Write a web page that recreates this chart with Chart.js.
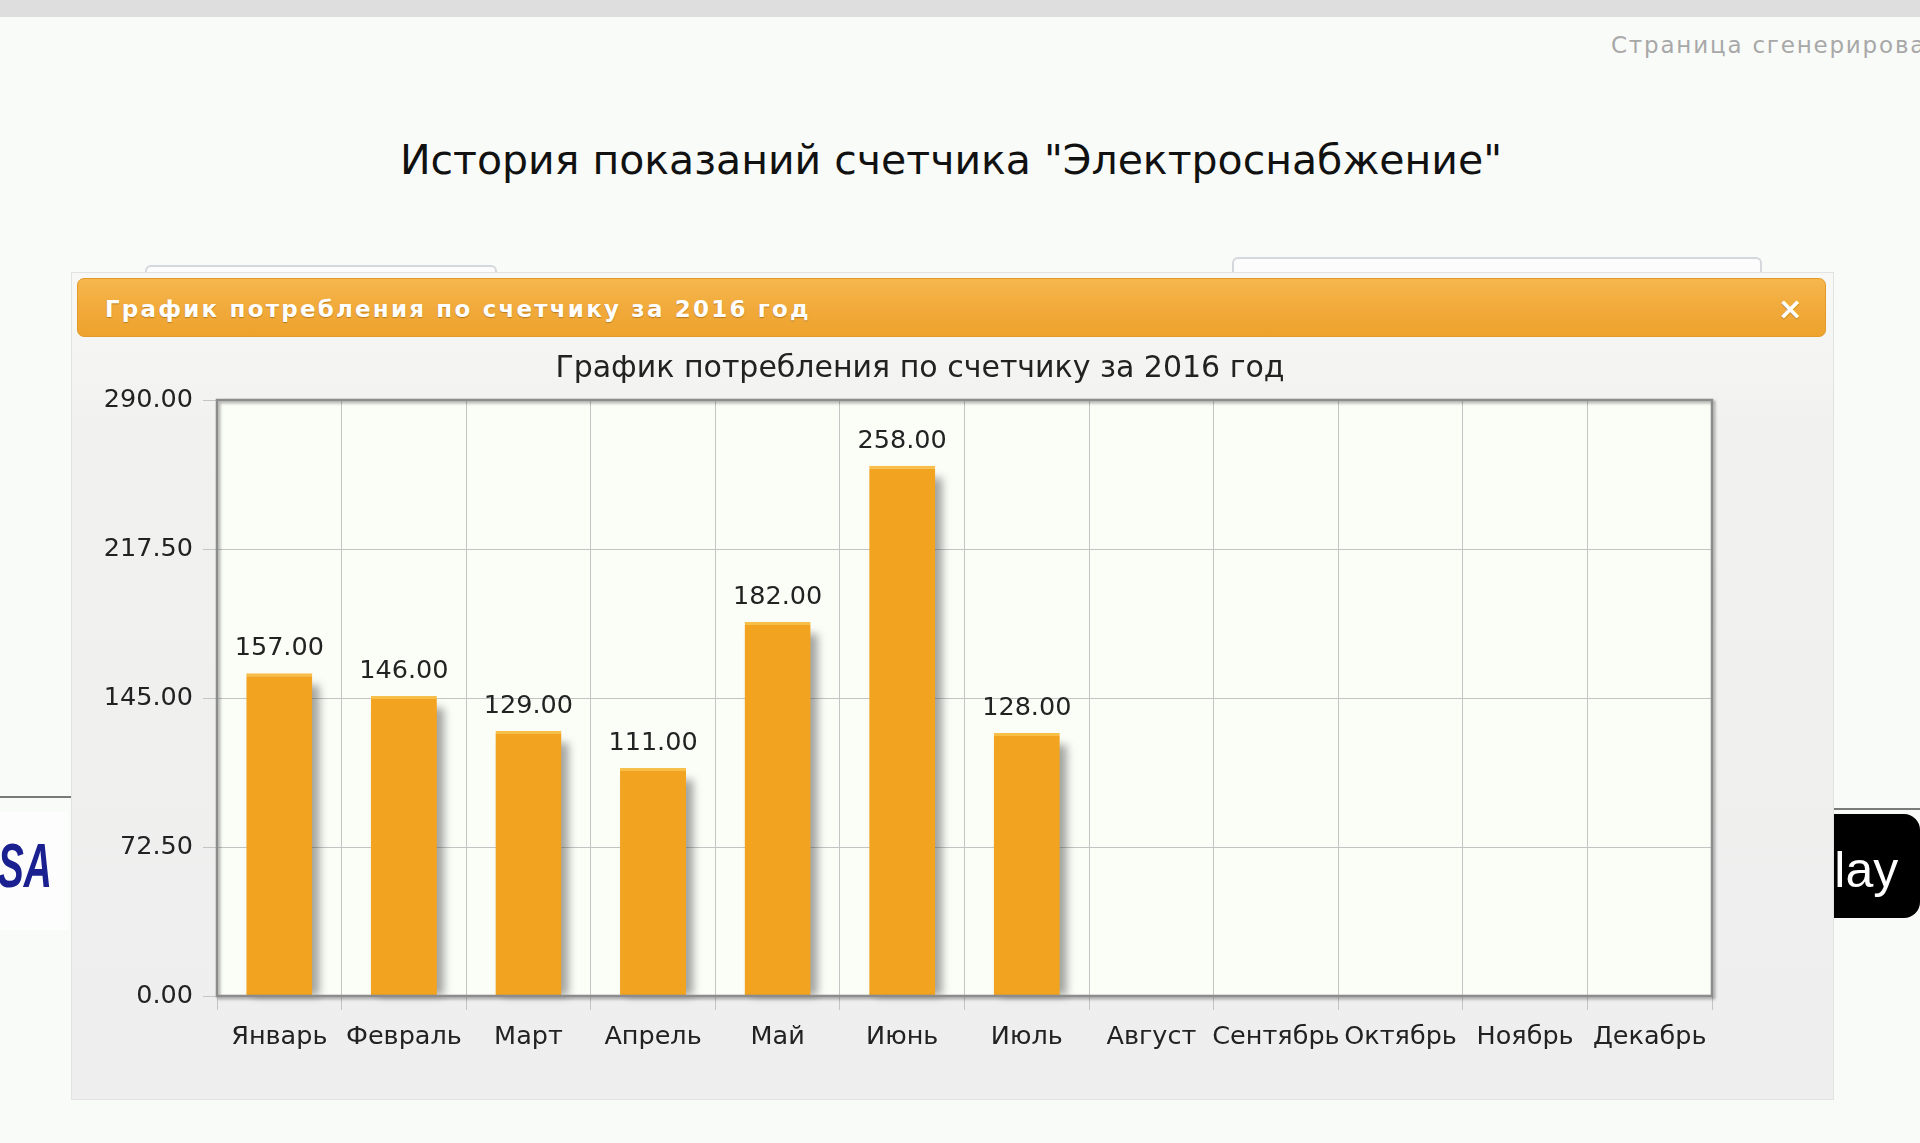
<!DOCTYPE html>
<html>
<head>
<meta charset="utf-8">
<script src="https://cdn.jsdelivr.net/npm/chart.js@4"></script>
<style>
  /* ===== PAGE ===== */
  html, body { margin:0; padding:0; }
  body {
    width:1920px; height:1143px; overflow:hidden; position:relative;
    background:#f9fbf8; font-family:"DejaVu Sans", Verdana, sans-serif;
  }
  .topbar { position:absolute; left:0; top:0; width:1920px; height:17px; background:#dedede; }
  .generated {
    position:absolute; left:1611px; top:32px; white-space:nowrap;
    font-size:23px; color:#a8a8a8; letter-spacing:1.8px;
  }
  .pageTitle {
    position:absolute; left:0; width:1902px; top:136px; text-align:center;
    font-size:41px; color:#111;
  }
  .tab { position:absolute; border:2px solid #d4d7dc; border-bottom:none; border-radius:6px 6px 0 0; background:#fbfcfb; }
  .sideLine { position:absolute; height:2px; background:#7a7a7a; }
  .visa {
    position:absolute; left:0; top:812px; width:68px; height:118px; background:#fdfdfd; overflow:hidden;
  }
  .visa span {
    position:absolute; right:16px; top:22px; white-space:nowrap;
    font:italic bold 63px "Liberation Sans", Arial, sans-serif; color:#1a208f; line-height:63px;
    transform:scaleX(0.62); transform-origin:right center;
  }
  .play {
    position:absolute; left:1780px; top:814px; width:140px; height:96px; padding-top:8px; background:#000;
    border-radius:16px; color:#fff; font:50px "Liberation Sans", Arial, sans-serif; line-height:96px;
    text-indent:21px;
  }

  /* ===== MODAL ===== */
  .panel {
    position:absolute; left:71px; top:272px; width:1763px; height:828px;
    background:linear-gradient(#f8f8f7 0px, #f1f1f0 160px, #eeeeee 100%);
    border:1px solid #e2e2e2; box-sizing:border-box;
  }
  .header {
    position:absolute; left:77px; top:278px; width:1749px; height:59px; box-sizing:border-box;
    border-radius:7px; border:1px solid #e39a28;
    background:linear-gradient(#f6b74c, #f1a93a 55%, #eda32c);
  }
  .header span {
    position:absolute; left:27px; top:17px; font-weight:bold; font-size:23px; color:#fff;
    letter-spacing:2.2px; text-shadow:0 1px 1px rgba(120,70,0,0.45);
  }
  .header b {
    position:absolute; right:22px; top:12px; font-size:30px; color:#fff;
    text-shadow:0 1px 1px rgba(120,70,0,0.45);
  }
  #chartBox { position:absolute; left:71px; top:337px; }
</style>
</head>
<body>
<div class="topbar"></div>
<div class="generated">Страница сгенерирована</div>
<div class="pageTitle">История показаний счетчика "Электроснабжение"</div>

<div class="tab" style="left:145px; top:265px; width:348px; height:20px;"></div>
<div class="tab" style="left:1232px; top:257px; width:526px; height:26px;"></div>

<div class="sideLine" style="left:0; top:796px; width:71px;"></div>
<div class="visa"><span>VISA</span></div>
<div class="sideLine" style="left:1834px; top:808px; width:86px;"></div>
<div class="play">Play</div>

<div class="panel"></div>
<div class="header"><span>График потребления по счетчику за 2016 год</span><b>×</b></div>

<div id="chartBox"><canvas id="chartUsage" width="1763" height="763"></canvas></div>

<script>
/* ===================== DATA ===================== */

const MONTHS = ["Январь","Февраль","Март","Апрель","Май","Июнь","Июль",
                "Август","Сентябрь","Октябрь","Ноябрь","Декабрь"];
const USAGE = [157, 146, 129, 111, 182, 258, 128, null, null, null, null, null];
const Y_TICKS = [0, 72.5, 145, 217.5, 290];
const CHART_TITLE = "График потребления по счетчику за 2016 год";

/* ===================== PLUGINS ===================== */

const FONT = "'DejaVu Sans', Verdana, sans-serif";

const plotBg = {
  id: "plotBg",
  // y axis box is narrowed so the title centres like the original;
  // stretch it back to the canvas edge so its labels are not clipped
  afterLayout(chart) {
    chart.scales.y.left = 0;
  },
  beforeDraw(chart) {
    const { ctx, chartArea: a } = chart;
    ctx.save();
    ctx.fillStyle = "#fbfdf7";
    ctx.fillRect(a.left, a.top, a.width, a.height);
    ctx.restore();
  }
};

// soft grey shadow to the right of each bar, taken from the bar elements
const barShadow = {
  id: "barShadow",
  beforeDatasetsDraw(chart) {
    const ctx = chart.ctx;
    ctx.save();
    ctx.fillStyle = "rgba(40,40,40,0.42)";
    ctx.filter = "blur(4px)";
    chart.getDatasetMeta(0).data.forEach((bar, i) => {
      if (USAGE[i] === null) return;
      const { x, y, width, base } = bar.getProps(["x", "y", "width", "base"], true);
      ctx.fillRect(x - width / 2 + 7, y + 12, width, base - y - 12);
    });
    ctx.restore();
  }
};

const frameAndLabels = {
  id: "frameAndLabels",
  afterDatasetsDraw(chart) {
    const { ctx, chartArea: a } = chart;

    // plot frame with shadow
    ctx.save();
    ctx.shadowColor = "rgba(0,0,0,0.35)";
    ctx.shadowOffsetX = 2;
    ctx.shadowOffsetY = 2;
    ctx.shadowBlur = 3;
    ctx.strokeStyle = "#8c8c8c";
    ctx.lineWidth = 2.5;
    ctx.strokeRect(a.left, a.top, a.width, a.height);
    ctx.restore();

    // values above bars
    ctx.save();
    ctx.font = "25.5px " + FONT;
    ctx.fillStyle = "#222";
    ctx.textAlign = "center";
    ctx.textBaseline = "alphabetic";
    chart.getDatasetMeta(0).data.forEach((bar, i) => {
      const v = USAGE[i];
      if (v === null || v === undefined) return;
      ctx.fillText(v.toFixed(2), bar.x, bar.y - 18);
    });
    ctx.restore();
  }
};

/* ===================== CHART ===================== */

new Chart(document.getElementById("chartUsage"), {
  type: "bar",
  data: {
    labels: MONTHS,
    datasets: [{
      data: USAGE,
      backgroundColor: "#f2a320",
      borderColor: "#f7bf48",
      borderWidth: { top: 3, left: 0, right: 0, bottom: 0 },
      borderSkipped: "bottom",
      barPercentage: 0.53,
      categoryPercentage: 1
    }]
  },
  options: {
    responsive: false,
    animation: false,
    devicePixelRatio: 1,
    layout: { padding: { left: 57, right: 122, top: 0, bottom: 0 } },
    plugins: {
      legend: { display: false },
      tooltip: { enabled: false },
      title: {
        display: true,
        text: CHART_TITLE,
        color: "#222",
        font: { family: FONT, size: 30, weight: "normal" },
        padding: { top: 14, bottom: 13 }
      }
    },
    scales: {
      x: {
        grid: { color: "#c4c4c4", lineWidth: 1, tickLength: 14, offset: true },
        border: { display: false },
        ticks: { color: "#222", font: { family: FONT, size: 25.5 }, padding: 12, maxRotation: 0, autoSkip: false },
        afterFit(s) { s.height = 104; }
      },
      y: {
        min: 0,
        max: 290,
        afterBuildTicks(s) { s.ticks = Y_TICKS.map(v => ({ value: v })); },
        grid: { color: "#c4c4c4", lineWidth: 1, tickLength: 14 },
        border: { display: false },
        ticks: {
          color: "#222",
          font: { family: FONT, size: 25.5 },
          padding: 10,
          callback: v => Number(v).toFixed(2)
        },
        afterFit(s) { s.width = 89; }
      }
    }
  },
  plugins: [plotBg, barShadow, frameAndLabels]
});
</script>
</body>
</html>
